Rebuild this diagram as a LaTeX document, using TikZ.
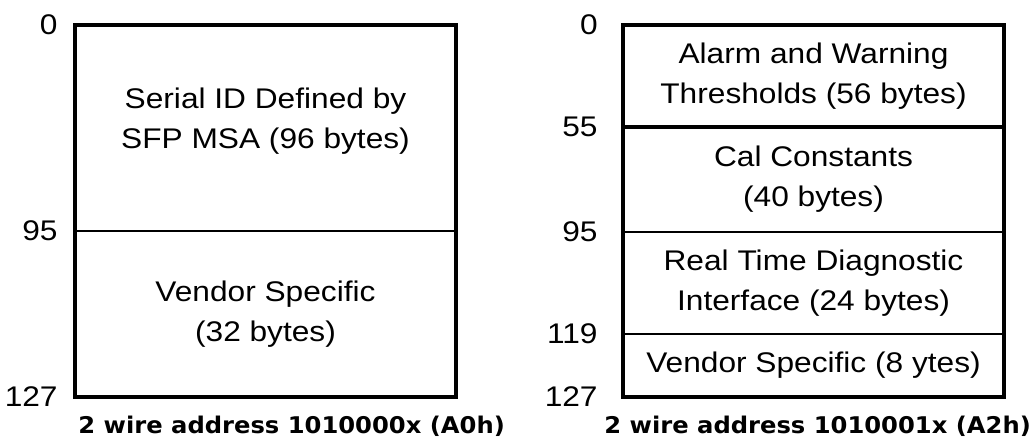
\documentclass[tikz,border=0pt]{standalone}
\usepackage{fontspec}
\setmainfont[FakeStretch=1.115]{Liberation Sans}
\newfontfamily\capfont[FakeStretch=1.053]{DejaVu Sans}
\usetikzlibrary{positioning}

\begin{document}
\begin{tikzpicture}[x=0.5pt, y=-0.5pt]
    \tikzstyle{field} = [shape=rectangle, draw, line width=1.2pt, minimum width=190.5pt, inner sep=0pt, outer sep=0pt, align=center, font=\fontsize{14.2}{20}\selectfont];
    \tikzstyle{addr} = [anchor=east, inner sep=0pt, font=\fontsize{14.2}{17}\selectfont];
    \tikzstyle{caption} = [anchor=base west, inner sep=0pt, font=\capfont\bfseries\fontsize{11.5}{13}\selectfont];

    \useasboundingbox (0,0) rectangle (1036,439);

    % A0h page
    \node[field, minimum height=103pt, text depth=10pt](serial) at (265.5,128) {Serial ID Defined by\\SFP MSA (96 bytes)};
    \node[field, minimum height=83pt, below=0pt of serial](vendorA) {Vendor Specific\\(32 bytes)};
    \draw[line width=2.15pt] (serial.north west) rectangle (vendorA.south east);

    \node[addr](a0) at ([xshift=-8.5pt]serial.north west) {0};
    \node[addr](a95) at ([xshift=-8.5pt]serial.south west) {95};
    \node[addr](a127) at ([xshift=-8.5pt]vendorA.south west) {127};

    % A2h page
    \node[field, minimum height=51pt](alarm) at (813.5,76) {Alarm and Warning\\Thresholds (56 bytes)};
    \node[field, minimum height=52.5pt, below=0pt of alarm](cal) {Cal Constants\\(40 bytes)};
    \node[field, minimum height=51pt, below=0pt of cal](rtdi) {Real Time Diagnostic\\Interface (24 bytes)};
    \node[field, minimum height=31.5pt, below=0pt of rtdi](vendorB) {Vendor Specific (8 ytes)};
    \draw[line width=1.65pt] (alarm.south west) -- (alarm.south east);
    \draw[line width=2.15pt] (alarm.north west) rectangle (vendorB.south east);

    \node[addr](b0) at ([xshift=-12.5pt]alarm.north west) {0};
    \foreach \f/\t in {alarm/55, cal/95, rtdi/119, vendorB/127}
        \node[addr](b\t) at ([xshift=-12.5pt]\f.south west) {\t};

    \node[caption](capA) at (78,433) {2 wire address 1010000x (A0h)};
    \node[caption](capB) at (604,433) {2 wire address 1010001x (A2h)};
\end{tikzpicture}
\end{document}
